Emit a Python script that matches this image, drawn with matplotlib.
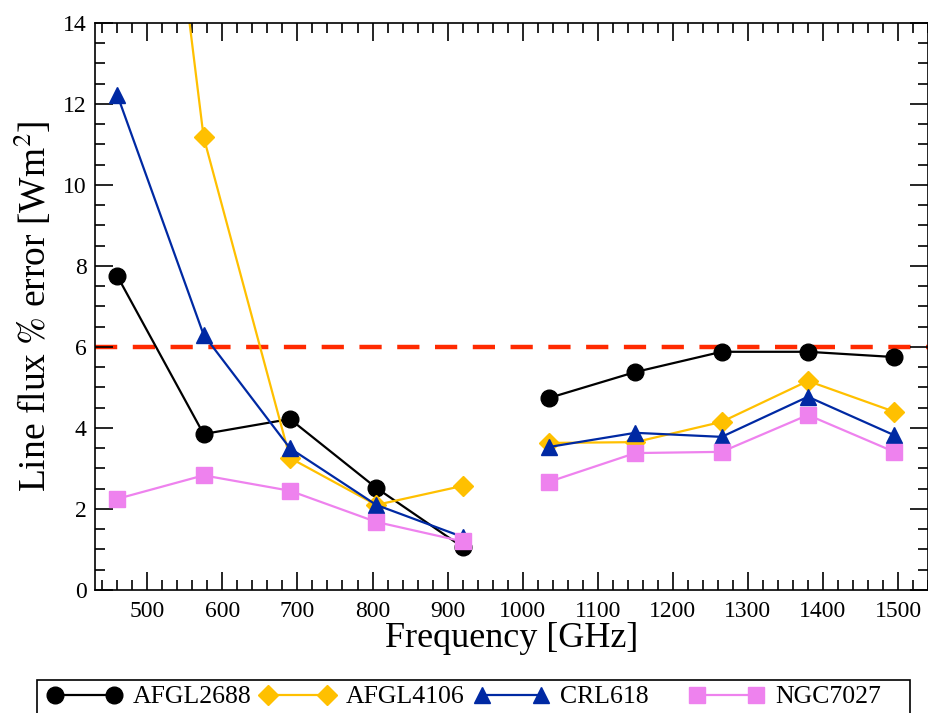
import matplotlib
matplotlib.use("Agg")
import matplotlib.pyplot as plt
from matplotlib.ticker import MultipleLocator
from matplotlib.patches import Rectangle

plt.rcParams['font.family'] = ['Liberation Serif', 'DejaVu Serif']
plt.rcParams['mathtext.fontset'] = 'stix'

freq_low = [460, 575, 690, 805, 920]
freq_high = [1035, 1150, 1265, 1380, 1495]

afgl2688_low = [7.75, 3.85, 4.22, 2.52, 1.06]
afgl2688_high = [4.74, 5.38, 5.88, 5.88, 5.75]
afgl4106_low = [28.5, 11.18, 3.26, 2.1, 2.57]
afgl4106_high = [3.63, 3.65, 4.15, 5.16, 4.4]
crl618_low = [12.22, 6.3, 3.5, 2.1, 1.31]
crl618_high = [3.53, 3.88, 3.78, 4.77, 3.82]
ngc7027_low = [2.25, 2.83, 2.45, 1.68, 1.2]
ngc7027_high = [2.67, 3.38, 3.41, 4.32, 3.41]

threshold = 6

W, H = 929, 713
fig = plt.figure(figsize=(W / 100, H / 100), dpi=100)
ax = fig.add_axes([0.102, 0.1725, 0.897, 0.7955])

series = [
    ("AFGL2688", afgl2688_low, afgl2688_high, "black", "o", 12),
    ("AFGL4106", afgl4106_low, afgl4106_high, "#FFC000", "D", 10),
    ("CRL618", crl618_low, crl618_high, "#0029A3", "^", 12),
    ("NGC7027", ngc7027_low, ngc7027_high, "#EE82EE", "s", 11),
]

handles = []
for name, lo, hi, col, mk, ms in series:
    h, = ax.plot(freq_low, lo, color=col, marker=mk, ms=ms, lw=1.6, label=name)
    ax.plot(freq_high, hi, color=col, marker=mk, ms=ms, lw=1.6)
    handles.append(h)

ax.axhline(threshold, color="#FF2A00", lw=3.2, ls=(0, (5, 3.5)), zorder=1)

ax.set_xlim(430, 1540)
ax.set_ylim(0, 14)
ax.xaxis.set_major_locator(MultipleLocator(100))
ax.xaxis.set_minor_locator(MultipleLocator(20))
ax.yaxis.set_major_locator(MultipleLocator(2))
ax.yaxis.set_minor_locator(MultipleLocator(0.5))
ax.tick_params(which="both", direction="in", top=True, right=True, labelsize=17, width=1.2)
ax.tick_params(which="major", length=13)
ax.tick_params(which="minor", length=7)
ax.tick_params(axis="x", which="major", pad=8)
ax.tick_params(axis="y", which="major", pad=6)
ax.set_xticks(list(range(500, 1501, 100)))
for s in ax.spines.values():
    s.set_linewidth(1.2)

ax.set_xlabel("Frequency [GHz]", fontsize=26, labelpad=0)
ax.set_ylabel("Line flux $\\%$ error [Wm$^2$]", fontsize=27, labelpad=6)

# legend: one box with four equally spaced entries
col_x = [47, 260, 474, 689]
for h, x in zip(handles, col_x):
    lg = fig.legend([h], [h.get_label()], loc="center left",
                    bbox_to_anchor=(x / W, 1 - 697 / H), numpoints=2,
                    handlelength=2.9, fontsize=18.5, frameon=False,
                    borderpad=0, borderaxespad=0, handletextpad=0.45)
fig.patches.append(Rectangle((37 / W, -0.05), (910 - 37) / W, 0.05 + (H - 680) / H,
                             transform=fig.transFigure, fill=False,
                             edgecolor="black", lw=1.2))

fig.savefig("out.png", dpi=100)
